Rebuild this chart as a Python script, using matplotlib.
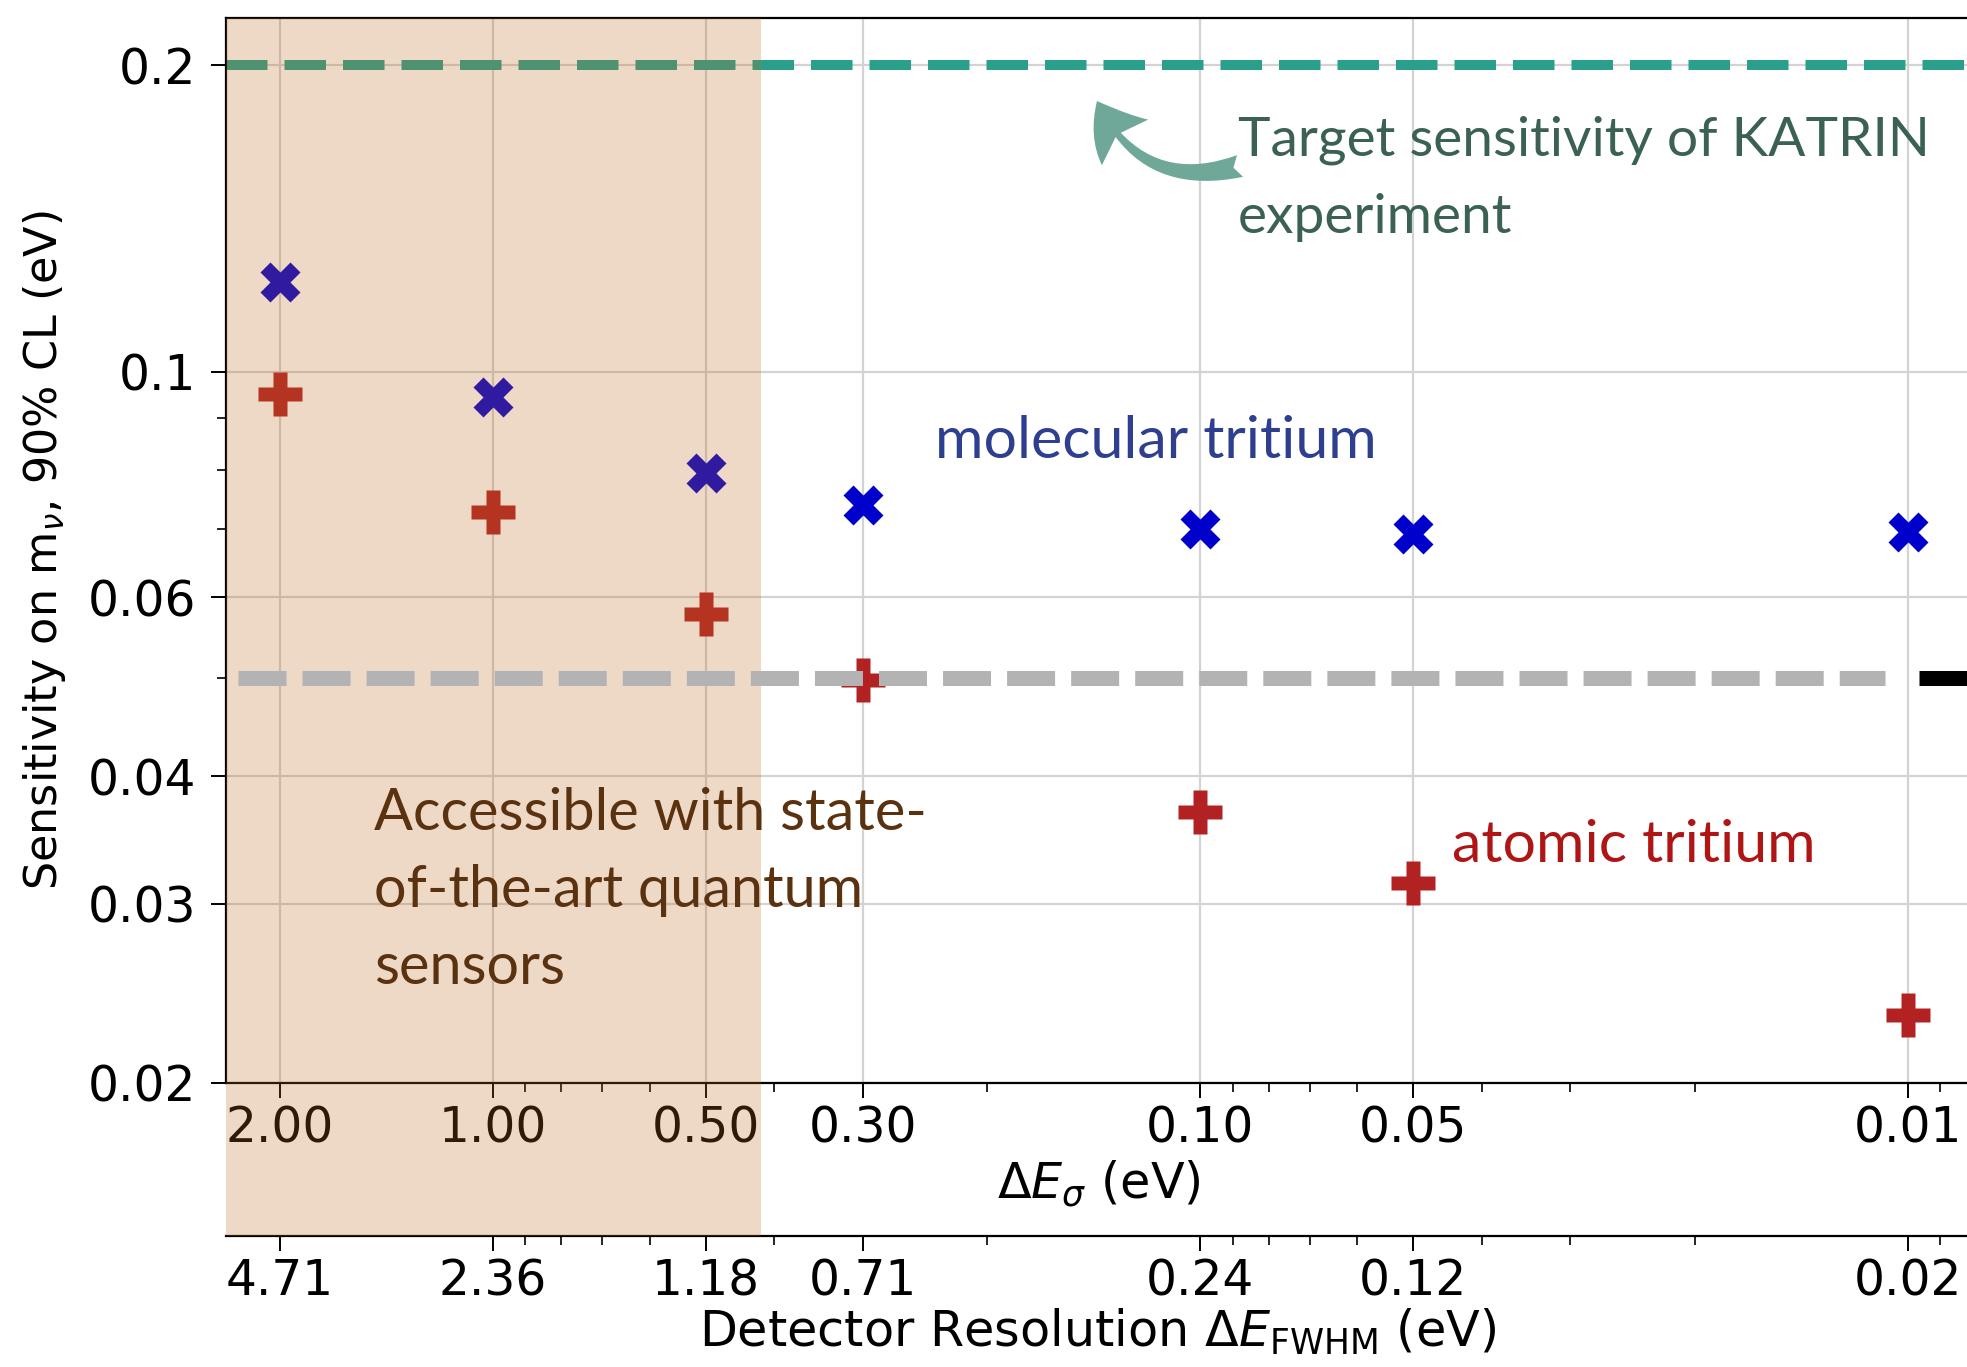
import numpy as np
import matplotlib
matplotlib.use('Agg')
import matplotlib.pyplot as plt
from matplotlib.patches import Rectangle, FancyArrowPatch
from matplotlib.ticker import LogLocator, NullFormatter, FixedLocator, FixedFormatter
from matplotlib.transforms import blended_transform_factory

# ---------------- data ----------------
sigma_ticks = [2.00, 1.00, 0.50, 0.30, 0.10, 0.05, 0.01]
sigma_labels = ['2.00', '1.00', '0.50', '0.30', '0.10', '0.05', '0.01']
fwhm_labels = ['4.71', '2.36', '1.18', '0.71', '0.24', '0.12', '0.02']
y_ticks = [0.02, 0.03, 0.04, 0.06, 0.1, 0.2]
y_labels = ['0.02', '0.03', '0.04', '0.06', '0.1', '0.2']

resolution = [2.00, 1.00, 0.50, 0.30, 0.10, 0.05, 0.01]
molecular = [0.1224, 0.0945, 0.0795, 0.0739, 0.0700, 0.0693, 0.0695]
atomic = [0.0951, 0.0728, 0.0578, 0.0497, 0.0369, 0.0314, 0.0233]

katrin_target = 0.2
reference_level = 0.05
quantum_limit = 0.417
x_limits = (2.384, 0.005)
y_limits = (0.02, 0.2228)

# ---------------- figure ----------------
fig = plt.figure(figsize=(19.67, 13.67), dpi=100)
fig.patch.set_facecolor('white')
pos = [0.1148, 0.2080, 0.9633, 0.7791]
ax = fig.add_axes(pos)
ax.set_xscale('log')
ax.set_yscale('log')
ax.set_xlim(*x_limits)
ax.set_ylim(*y_limits)

ax.xaxis.set_major_locator(FixedLocator(sigma_ticks))
ax.xaxis.set_major_formatter(FixedFormatter(sigma_labels))
ax.xaxis.set_minor_locator(LogLocator(base=10, subs=np.arange(2, 10), numticks=50))
ax.xaxis.set_minor_formatter(NullFormatter())
ax.yaxis.set_major_locator(FixedLocator(y_ticks))
ax.yaxis.set_major_formatter(FixedFormatter(y_labels))
ax.yaxis.set_minor_locator(LogLocator(base=10, subs=np.arange(2, 10), numticks=50))
ax.yaxis.set_minor_formatter(NullFormatter())

ax.grid(True, which='major', color='#d3d3d3', lw=1.6, zorder=0)
ax.set_axisbelow(True)
for s in ax.spines.values():
    s.set_linewidth(1.6)
ax.tick_params(which='major', length=10.5, width=1.4, labelsize=35, pad=5)
ax.tick_params(which='minor', length=6.5, width=1.2)
ax.tick_params(axis='y', which='major', pad=11)

ax.set_ylabel(r'Sensitivity on m$_\nu$, 90% CL (eV)', fontsize=32)
ax.yaxis.set_label_coords(-0.0835, 0.5)
ax.set_xlabel(r'$\Delta E_\sigma$ (eV)', fontsize=35.5)
ax.xaxis.label.set_va('center')
ax.xaxis.set_label_coords(0.4606, -0.0945)

# secondary axis (FWHM)
sec = ax.secondary_xaxis(-0.1437, functions=(lambda x: x, lambda x: x))
sec.xaxis.set_major_locator(FixedLocator(sigma_ticks))
sec.xaxis.set_major_formatter(FixedFormatter(fwhm_labels))
sec.xaxis.set_minor_locator(LogLocator(base=10, subs=np.arange(2, 10), numticks=50))
sec.xaxis.set_minor_formatter(NullFormatter())
sec.tick_params(which='major', length=10.5, width=1.4, labelsize=35, pad=5)
sec.tick_params(which='minor', length=6.5, width=1.2)
sec.spines['bottom'].set_linewidth(1.6)
sec.set_xlabel(r'Detector Resolution $\Delta E_{\mathrm{FWHM}}$ (eV)', fontsize=35.5)
sec.xaxis.label.set_va('center')
sec.xaxis.set_label_coords(0.4603, -0.234, transform=ax.transAxes)

# KATRIN target line (under the shading)
ax.axhline(katrin_target, color='#2aa08c', lw=7.2, dashes=(4.15, 1.7), zorder=2)

# data points
ax.plot(resolution, molecular, linestyle='none', marker='X', ms=29,
        color='#0000cc', mec='none', zorder=3)
ax.plot(resolution, atomic, linestyle='none', marker='P', ms=31,
        color='#b22222', mec='none', zorder=3)

# shaded "accessible" region (semi-transparent overlay)
rect = Rectangle((x_limits[0], -0.1437), quantum_limit - x_limits[0], 1.1437,
                 transform=blended_transform_factory(ax.transData, ax.transAxes),
                 facecolor='#BF6B1F', alpha=0.25, edgecolor='none', zorder=1)
fig.add_artist(rect)

# top layer axes
ax2 = fig.add_axes(pos, zorder=2)
ax2.set_xscale('log')
ax2.set_yscale('log')
ax2.set_xlim(*x_limits)
ax2.set_ylim(*y_limits)
ax2.axis('off')
ax2.patch.set_visible(False)

ax2.plot([2.29, 0.01075], [reference_level, reference_level], color='#b3b3b3',
         lw=10.8, dashes=(3.2, 1.07), dash_capstyle='butt', solid_capstyle='butt')
ax2.plot([0.00963, 0.005], [reference_level, reference_level], color='black',
         lw=10.8, solid_capstyle='butt')

tfont = 'Lato'
ax2.text(0.0884, 0.1548, 'Target sensitivity of KATRIN\nexperiment', ha='left', va='center',
         fontsize=39.7, family=tfont, color='#3b6152', linespacing=1.70)
ax2.text(0.2374, 0.0853, 'molecular tritium', ha='left', va='center',
         fontsize=42.5, family=tfont, color='#2f3f8f')
ax2.text(0.0440, 0.0342, 'atomic tritium', ha='left', va='center',
         fontsize=42.5, family=tfont, color='#b01515')
ax2.text(1.474, 0.0309, 'Accessible with state-\nof-the-art quantum\nsensors', ha='left',
         va='center', fontsize=41.5, family=tfont, color='#5a3210', linespacing=1.55)

arrow = FancyArrowPatch((1240 / 1967, 1 - 166 / 1367), (1097 / 1967, 1 - 101 / 1367),
                        transform=fig.transFigure, connectionstyle='arc3,rad=-0.42',
                        arrowstyle='fancy,head_length=1.0,head_width=1.3,tail_width=0.45',
                        mutation_scale=36, color='#6fa898', lw=0, shrinkA=0, shrinkB=0,
                        zorder=3)
fig.add_artist(arrow)

fig.savefig('out.png', dpi=100)
